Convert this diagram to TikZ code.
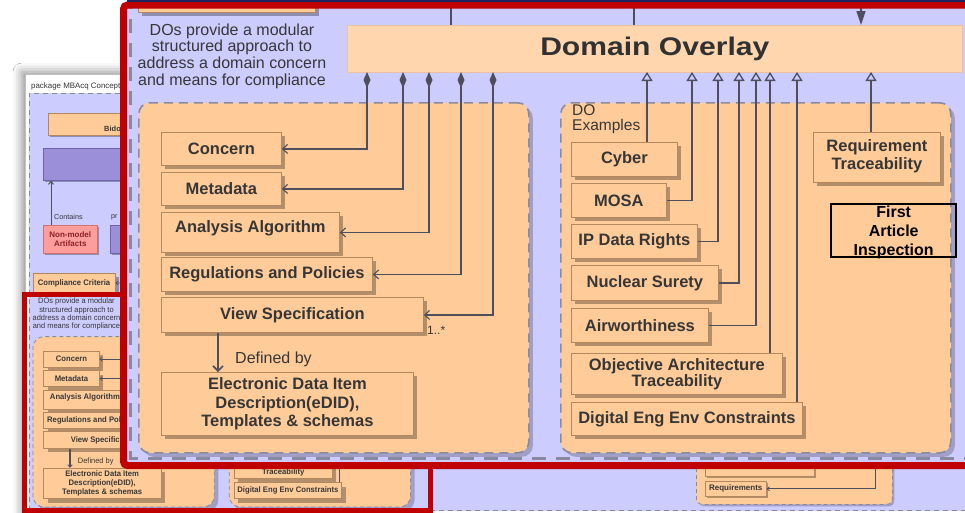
\documentclass[tikz,border=0pt]{standalone}
\usepackage{fontspec}
\setmainfont{Liberation Sans}
\newfontfamily\widebold[FakeStretch=1.18]{Liberation Sans Bold}
\usetikzlibrary{arrows.meta,shadows,shadows.blur}

\definecolor{lav}{HTML}{CCCCFF}
\definecolor{boxfill}{HTML}{FFCC99}
\definecolor{dofill}{HTML}{FFD6AE}
\definecolor{boxline}{HTML}{B5875E}
\definecolor{linec}{HTML}{4E4E5C}
\definecolor{txt}{HTML}{363636}
\definecolor{redframe}{HTML}{C00000}
\definecolor{navy}{HTML}{1C2466}
\definecolor{dashc}{HTML}{8A8A9E}
\definecolor{purp}{HTML}{9B8FD9}
\definecolor{purpline}{HTML}{6F63B0}
\definecolor{pinkfill}{HTML}{FF9D9D}
\definecolor{pinkline}{HTML}{D07070}
\definecolor{pinktext}{HTML}{8B2020}

\tikzset{
  boxedge/.style={line width=0.8pt},
  contedge/.style={line width=1.6pt, dash pattern=on 9pt off 6pt},
  conn/.style={draw=linec, line width=1.4pt},
  comp/.style={conn, {Diamond[length=16pt,width=7pt]}-{Straight Barb[length=5pt,width=9pt,line width=1.1pt]}},
  gen/.style={conn, -{Triangle[open,length=9pt,width=11pt,line width=1.3pt]}},
  nav/.style={conn, -{Straight Barb[length=5pt,width=9pt,line width=1.1pt]}},
  defarrow/.style={draw=linec, line width=2.6pt, -{Straight Barb[length=5pt,width=10pt,line width=1.6pt]}},
  box/.style={boxedge, draw=boxline, fill=boxfill, text=txt,
    font=\fontsize{16.5}{18.5}\selectfont\bfseries, inner sep=0pt,
    anchor=north west, align=center,
    drop shadow={shadow xshift=4pt,shadow yshift=-4pt,fill=black,opacity=.3}},
  boxtext/.style={text=txt, font=\fontsize{16.5}{18.5}\selectfont\bfseries, inner sep=0pt, align=center},
  cont/.style={contedge, draw=dashc, fill=boxfill, rounded corners=11pt,
    inner sep=0pt, anchor=north west,
    drop shadow={shadow xshift=4pt,shadow yshift=-4pt,fill=black,opacity=.22}},
  dobox/.style={draw=boxfill!80!black!40!dofill, line width=0.6pt, fill=dofill,
    text=txt!90!black, font=\fontsize{25.5}{28}\widebold, inner sep=0pt, anchor=north west},
  note/.style={text=txt, font=\fontsize{16}{16.7}\selectfont, align=center, inner sep=0pt},
  lbl/.style={text=txt, font=\fontsize{16}{18}\selectfont, inner sep=0pt},
  faibox/.style={draw=black, line width=2.4pt, inner sep=0pt, anchor=north west},
  faitext/.style={align=center, text=black, inner sep=0pt, font=\fontsize{16}{19}\selectfont\bfseries},
  minibox/.style={draw=boxline, fill=boxfill, line width=0.5pt, text=txt,
    font=\fontsize{8}{9}\selectfont\bfseries, inner sep=0pt, anchor=north west, align=center,
    drop shadow={shadow xshift=2pt,shadow yshift=-2pt,fill=black,opacity=.3}},
  purpbox/.style={draw=purpline, fill=purp, line width=0.6pt, inner sep=0pt, anchor=north west,
    drop shadow={shadow xshift=2pt,shadow yshift=-2pt,fill=black,opacity=.3}},
  pinkbox/.style={draw=pinkline, fill=pinkfill, line width=0.5pt, inner sep=0pt, anchor=north west,
    align=center, text=pinktext, font=\fontsize{8}{9}\selectfont\bfseries,
    drop shadow={shadow xshift=2pt,shadow yshift=-2pt,fill=black,opacity=.3}},
  minicont/.style={draw=dashc, line width=0.8pt, dash pattern=on 4pt off 3pt, fill=boxfill,
    rounded corners=6pt, inner sep=0pt, anchor=north west,
    drop shadow={shadow xshift=2pt,shadow yshift=-2pt,fill=black,opacity=.22}},
  miniconn/.style={draw=linec, line width=0.7pt},
  minilabel/.style={text=txt, font=\fontsize{7.2}{8}\selectfont, inner sep=0pt}
}

% \ifwhole: true for the enlarged view; in the small copy the labels that
% sit under the enlarged view are left out.
\newif\ifwhole

% The domain overlay package content, in its own (large) coordinates.
% #1 prefixes the node names.
\newcommand\drawpanel[1]{%
  % the row above: Compliance Criteria
  \node[box, minimum width=177, minimum height=40] (#1cc) at (138,-28) {\ifwhole\else Compliance Criteria\fi};
  \coordinate (#1ccx) at (380,-8);
  \draw[nav] (#1ccx) -- (#1cc.east);
  % Domain Overlay block
  \node[dobox, minimum width=615, minimum height=47] (#1dov) at (347,25) {\ifwhole Domain Overlay\fi};
  \coordinate (#1u1) at (451,-20);
  \coordinate (#1u2) at (634,-20);
  \coordinate (#1u3) at (861,-20);
  \draw[conn] (#1u1) -- (#1u1 |- #1dov.north);
  \draw[conn] (#1u2) -- (#1u2 |- #1dov.north);
  \draw[conn, -{Triangle[length=14pt,width=9pt]}] (#1u3) -- (#1u3 |- #1dov.north);
  \node[note] (#1dos) at (232,56) {DOs provide a modular\\structured approach to\\address a domain concern\\and means for compliance};
  % containers
  \node[cont, minimum width=390, minimum height=350] (#1leftc) at (138,102) {};
  \node[cont, minimum width=390, minimum height=350] (#1rightc) at (560,102) {};
  \ifwhole
    \node[lbl, font=\fontsize{15.5}{15}\selectfont, anchor=north west, align=left] (#1doex) at (572,104) {DO\\Examples};
  \fi
  % left container
  \node[box, minimum width=120, minimum height=33] (#1concern) at (161,132) {Concern};
  \node[box, minimum width=120, minimum height=33] (#1meta) at (161,172) {Metadata};
  \node[box, minimum width=178, minimum height=40, text height=12pt, text depth=12pt] (#1algo) at (161,212) {Analysis Algorithm};
  \node[box, minimum width=211, minimum height=34] (#1regs) at (161,257) {Regulations and Policies};
  \node[box, minimum width=262, minimum height=35] (#1view) at (161,297) {View Specification};
  \node[box, minimum width=252, minimum height=63, font=\fontsize{16.5}{18.5}\selectfont\bfseries] (#1edid) at (161,372) {Electronic Data Item\\Description(eDID),\\Templates \& schemas};
  \node[lbl, anchor=west] (#1defby) at (235,359) {Defined by};
  \ifwhole
    \node[lbl, font=\fontsize{12}{14}\selectfont, anchor=west] (#1mult) at (427,330) {1..*};
  \fi
  \coordinate (#1vx) at (218,0);
  \draw[defarrow] (#1view.south -| #1vx) -- (#1edid.north -| #1vx);
  \coordinate (#1d1) at (367,72);
  \coordinate (#1d2) at (403,72);
  \coordinate (#1d3) at (429,72);
  \coordinate (#1d4) at (461,72);
  \coordinate (#1d5) at (493,72);
  \draw[comp] (#1d1) |- (#1concern.east);
  \draw[comp] (#1d2) |- (#1meta.east);
  \draw[comp] (#1d3) |- (#1algo.east);
  \draw[comp] (#1d4) |- (#1regs.east);
  \draw[comp] (#1d5) |- (#1view.east);
  % right container
  \node[box, minimum width=106, minimum height=34] (#1cyber) at (571,142) {\ifwhole Cyber\fi};
  \node[box, minimum width=95, minimum height=34] (#1mosa) at (571,183) {\ifwhole MOSA\fi};
  \node[box, minimum width=126, minimum height=34] (#1ipdr) at (571,224) {\ifwhole IP Data Rights\fi};
  \node[box, minimum width=147, minimum height=35] (#1nuke) at (571,265) {\ifwhole Nuclear Surety\fi};
  \node[box, minimum width=137, minimum height=34] (#1air) at (571,308) {\ifwhole Airworthiness\fi};
  \node[box, minimum width=211, minimum height=41, font=\fontsize{16.5}{16}\selectfont\bfseries] (#1oat) at (571,353) {\ifwhole Objective Architecture\else\vphantom{O}\fi\\Traceability};
  \node[box, minimum width=231, minimum height=33] (#1deec) at (571,402) {Digital Eng Env Constraints};
  \node[box, minimum width=127, minimum height=50] (#1rtrace) at (813,132) {};
  \node[faibox, minimum width=125, minimum height=53] (#1fai) at (830,203) {};
  \ifwhole
    \node[boxtext] (#1rtxt) at ([yshift=1pt]#1rtrace.center) {Requirement\\Traceability};
    \node[faitext] (#1faitxt) at ([yshift=-2pt]#1fai.center) {First\\Article\\Inspection};
  \fi
  \coordinate (#1t1) at (647,72);
  \coordinate (#1t2) at (692,72);
  \coordinate (#1t3) at (718,72);
  \coordinate (#1t4) at (739,72);
  \coordinate (#1t5) at (756,72);
  \coordinate (#1t6) at (770,72);
  \coordinate (#1t7) at (797,72);
  \coordinate (#1t8) at (871,72);
  \draw[gen] (#1cyber.north -| #1t1) -- (#1t1);
  \draw[gen] (#1mosa.east) -| (#1t2);
  \draw[gen] (#1ipdr.east) -| (#1t3);
  \draw[gen] (#1nuke.east) -| (#1t4);
  \draw[gen] (#1air.east) -| (#1t5);
  \draw[gen] (#1oat.north -| #1t6) -- (#1t6);
  \draw[gen] (#1deec.north -| #1t7) -- (#1t7);
  \draw[gen] (#1rtrace.north -| #1t8) -- (#1t8);
}

\begin{document}
\begin{tikzpicture}[x=1pt,y=-1pt]
\useasboundingbox (0,0) rectangle (965,512);
\fill[white] (0,0) rectangle (965,512);

% ---- package diagram (small scale) ----
\path[fill=white, blur shadow={shadow xshift=-3pt, shadow yshift=2pt, shadow blur radius=9pt, shadow opacity=45}] (25,74) rectangle (1020,560);
\draw[black!25, line width=0.6pt] (25,74) rectangle (1020,560);
\node[anchor=west, font=\fontsize{7.9}{9}\selectfont, text=txt, inner sep=0pt] (pkg) at (31,86) {package MBAcq Concept};
\fill[lav] (29,93) rectangle (1020,510.5);
\draw[dashc, line width=1pt, dash pattern=on 5pt off 4pt] (1020,93) -- (29,93) -- (29,510.5) -- (1020,510.5);

\node[minibox, minimum width=110, minimum height=22] (bido) at (48,113) {};
\node[minilabel, font=\fontsize{7.5}{8}\selectfont\bfseries, anchor=west] (bidotxt) at (104,129) {Bido};
\node[purpbox, minimum width=100, minimum height=32] (grp) at (43,148) {};
\node[pinkbox, minimum width=54, minimum height=28] (nonmodel) at (43,225) {Non-model\\Artifacts};
\node[purpbox, minimum width=40, minimum height=28] (grp2) at (110,225) {};
\coordinate (cx) at (51,0);
\draw[miniconn, line width=1pt, {Straight Barb[length=3pt,width=5pt]}-] (grp.south -| cx) -- (nonmodel.north -| cx);
\node[minilabel, anchor=west] (contains) at (54,217) {Contains};
\node[minilabel, anchor=west] (prlbl) at (111,217) {pr};

\node[minicont, minimum width=196, minimum height=80] (reqcont) at (696,424) {};
\node[minibox, minimum width=109, minimum height=21] (constr) at (705,455) {Constraints};
\node[minibox, minimum width=61, minimum height=15] (reqs) at (705,481) {Requirements};
\coordinate (rq) at (875,440);
\draw[miniconn, -{Straight Barb[length=2.5pt,width=4pt]}] (rq) |- (reqs.east);

% the domain overlay package at its small scale
\wholefalse
\begin{scope}[shift={(-31.4,286.8)}, xscale=0.465, yscale=0.4866, transform shape,
  boxedge/.style={line width=0.4pt},
  contedge/.style={line width=0.8pt, dash pattern=on 4pt off 3pt},
  conn/.style={draw=linec, line width=0.6pt},
  comp/.style={conn, {Diamond[length=7pt,width=3.5pt]}-{Straight Barb[length=2.5pt,width=4pt,line width=0.6pt]}},
  gen/.style={conn, -{Triangle[open,length=4pt,width=5pt,line width=0.6pt]}},
  nav/.style={conn, -{Straight Barb[length=2.5pt,width=4pt,line width=0.6pt]}},
  defarrow/.style={draw=linec, line width=1.2pt, -{Straight Barb[length=2.5pt,width=4.5pt,line width=0.8pt]}}]
  \drawpanel{m}
\end{scope}
\draw[redframe, line width=5pt] (24,294) rectangle (430.5,510);

% ---- enlarged view ----
\wholetrue
\begin{scope}
  \clip (123.5,5) rectangle (975,465.5);
  \fill[lav] (123.5,5) rectangle (975,465.5);
  \draw[dashc, line width=3pt, dash pattern=on 14pt off 10pt] (130.5,-5) -- (130.5,458) -- (980,458);
  \drawpanel{b}
\end{scope}
\draw[redframe, line width=7pt, rounded corners=4pt] (123.5,5) rectangle (990,465.5);
\fill[navy] (127,0) rectangle (965,1.8);
\end{tikzpicture}
\end{document}
